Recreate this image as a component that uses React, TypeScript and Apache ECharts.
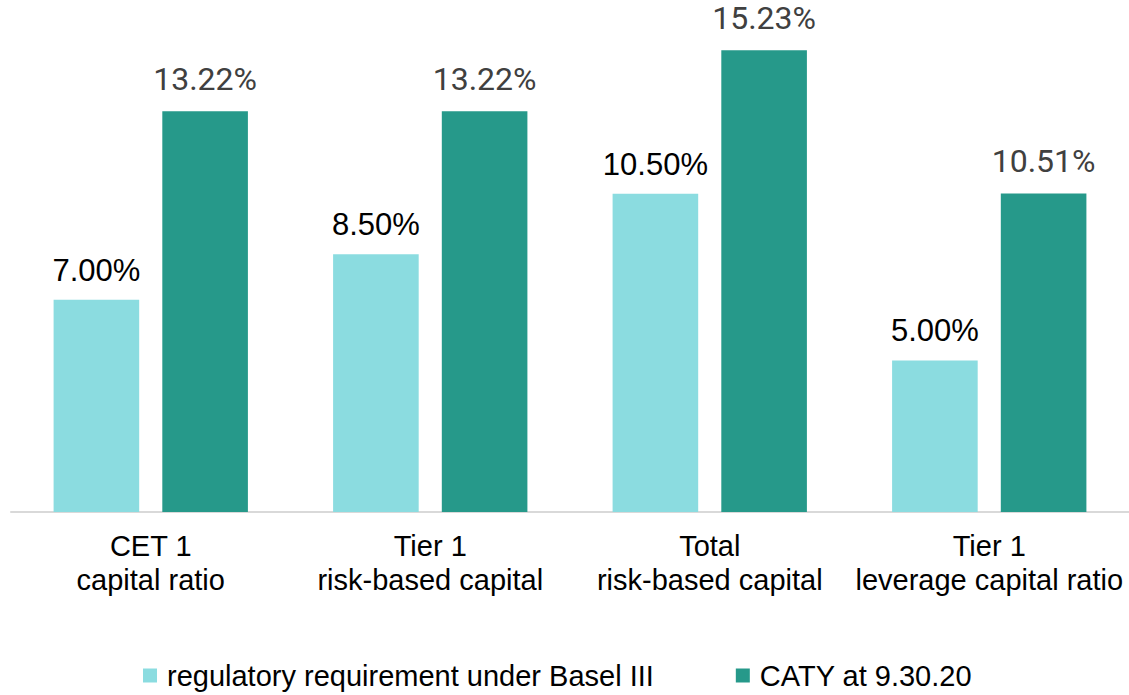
import React, { useEffect, useRef } from "react";
import * as echarts from "echarts";

const categories = [
  "CET 1\ncapital ratio",
  "Tier 1\nrisk-based capital",
  "Total\nrisk-based capital",
  "Tier 1\nleverage capital ratio",
];
const regulatory = [7.0, 8.5, 10.5, 5.0];
const caty = [13.22, 13.22, 15.23, 10.51];
const seriesNames = ["regulatory requirement under Basel III", "CATY at 9.30.20"];

export default function App() {
  const ref = useRef<HTMLDivElement>(null);
  useEffect(() => {
    if (!ref.current) return;
    const chart = echarts.init(ref.current, undefined, { renderer: "svg" });
    chart.setOption({
      animation: false,
      grid: { left: 11, width: 1120, top: 27, bottom: 183 },
      xAxis: {
        type: "category",
        data: categories,
        axisLine: { lineStyle: { color: "#D9D9D9", width: 2 } },
        axisTick: { show: false },
        axisLabel: {
          interval: 0,
          color: "#000",
          fontFamily: "Liberation Sans, Arial, sans-serif",
          fontSize: 29,
          lineHeight: 34,
          margin: 17,
        },
      },
      yAxis: {
        type: "value",
        min: 0,
        max: 16,
        show: false,
        splitLine: { show: false },
      },
      legend: {
        data: seriesNames,
        left: 138,
        top: 656,
        itemWidth: 14,
        itemHeight: 14,
        itemGap: 82,
        icon: "rect",
        textStyle: {
          color: "#000",
          fontFamily: "Liberation Sans, Arial, sans-serif",
          fontSize: 29,
          padding: [0, 0, 0, 5],
        },
      },
      series: [
        {
          name: seriesNames[0],
          type: "bar",
          data: regulatory,
          barWidth: 85.6,
          barGap: "27%",
          itemStyle: { color: "#8BDCE0" },
          label: {
            show: true,
            position: "top",
            distance: 14,
            color: "#000",
            fontFamily: "Liberation Sans, Arial, sans-serif",
            fontSize: 31,
            formatter: (p: any) => p.value.toFixed(2) + "%",
          },
        },
        {
          name: seriesNames[1],
          type: "bar",
          data: caty,
          barWidth: 85.6,
          barGap: "27%",
          itemStyle: { color: "#26998A" },
          label: {
            show: true,
            position: "top",
            distance: 16,
            color: "#404040",
            fontFamily: "Roboto, sans-serif",
            fontSize: 32,
            formatter: (p: any) => p.value.toFixed(2) + "%",
          },
        },
      ],
    });
    return () => chart.dispose();
  }, []);
  return (
    <div
      ref={ref}
      style={{ position: "absolute", left: 0, top: 0, width: 1129, height: 695 }}
    />
  );
}
